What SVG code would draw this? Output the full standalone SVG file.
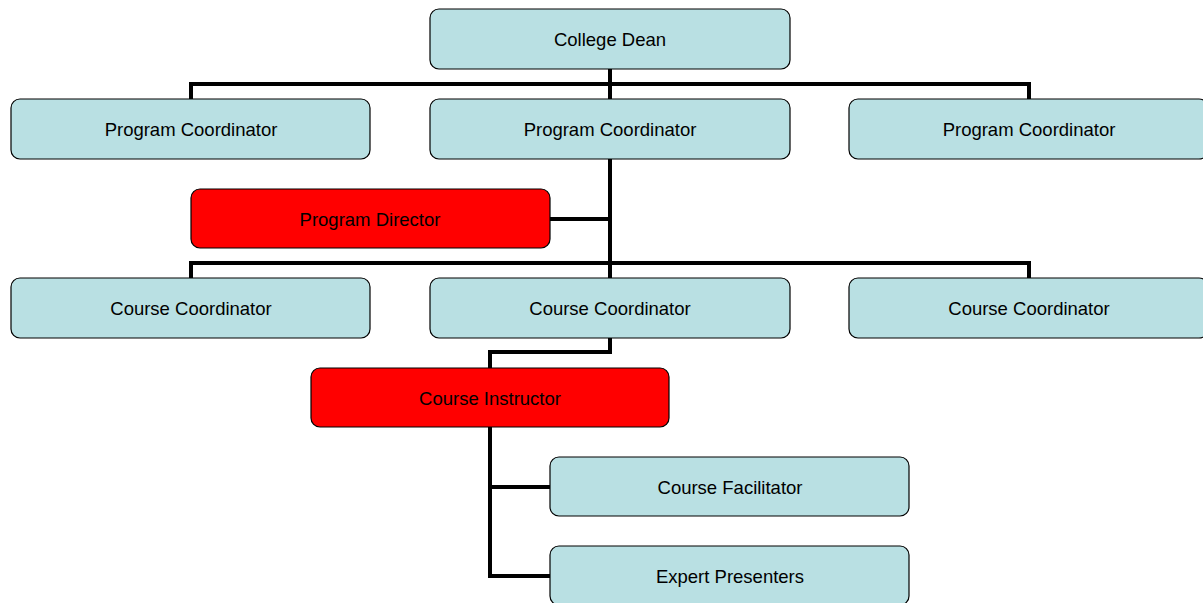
<svg xmlns="http://www.w3.org/2000/svg" width="1203" height="603" viewBox="0 0 1203 603">
<style>
.n rect{fill:#B9E0E3;stroke:#000;stroke-width:1.2}
.r rect{fill:#FF0000}
text{font-family:"Liberation Sans",Arial,sans-serif;font-size:18.5px;fill:#000;text-anchor:middle;dominant-baseline:central}
#connectors path{fill:none;stroke:#000;stroke-width:4;stroke-linejoin:miter}
</style>
<rect width="1203" height="603" fill="#fff"/>
<g id="connectors">
<path d="M610 69V99M191 99V84H1029V99"/>
<path d="M610 159V278M550 219H610M191 278V263H1029V278"/>
<path d="M610 338V352H490V368"/>
<path d="M490 427V576H550M490 487H550"/>
</g>
<g id="dean" class="n"><rect x="430" y="9" width="360" height="60" rx="9"/><text x="610" y="39">College Dean</text></g>
<g id="pc1" class="n"><rect x="11" y="99" width="359" height="60" rx="9"/><text x="191" y="129">Program Coordinator</text></g>
<g id="pc2" class="n"><rect x="430" y="99" width="360" height="60" rx="9"/><text x="610" y="129">Program Coordinator</text></g>
<g id="pc3" class="n"><rect x="849" y="99" width="359" height="60" rx="9"/><text x="1029" y="129">Program Coordinator</text></g>
<g id="director" class="n r"><rect x="191" y="189" width="359" height="59" rx="9"/><text x="370" y="219">Program Director</text></g>
<g id="cc1" class="n"><rect x="11" y="278" width="359" height="60" rx="9"/><text x="191" y="308">Course Coordinator</text></g>
<g id="cc2" class="n"><rect x="430" y="278" width="360" height="60" rx="9"/><text x="610" y="308">Course Coordinator</text></g>
<g id="cc3" class="n"><rect x="849" y="278" width="359" height="60" rx="9"/><text x="1029" y="308">Course Coordinator</text></g>
<g id="instructor" class="n r"><rect x="311" y="368" width="358" height="59" rx="9"/><text x="490" y="398">Course Instructor</text></g>
<g id="facilitator" class="n"><rect x="550" y="457" width="359" height="59" rx="9"/><text x="730" y="487">Course Facilitator</text></g>
<g id="experts" class="n"><rect x="550" y="546" width="359" height="59" rx="9"/><text x="730" y="576">Expert Presenters</text></g>
</svg>
